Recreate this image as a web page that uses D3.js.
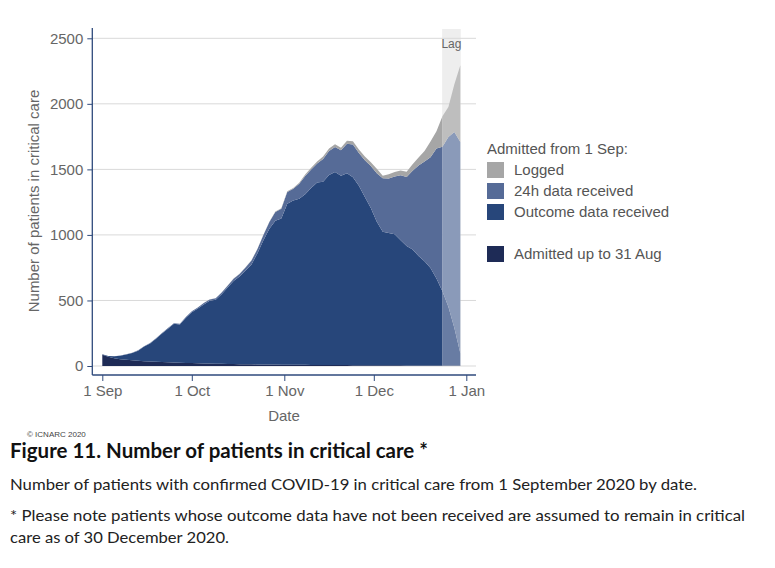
<!DOCTYPE html>
<html><head><meta charset="utf-8">
<script src="https://cdn.jsdelivr.net/npm/d3@7/dist/d3.min.js"></script>
<style>
body{margin:0;background:#fff;}
svg{display:block;}
</style></head>
<body><svg id="c" width="775" height="568"></svg>
<script>
// ---- data ----
const dates = [
 "2020-09-01","2020-09-03","2020-09-05","2020-09-07","2020-09-09","2020-09-11","2020-09-13","2020-09-15","2020-09-17","2020-09-19","2020-09-21","2020-09-23","2020-09-25","2020-09-27","2020-09-29",
 "2020-10-01","2020-10-03","2020-10-05","2020-10-07","2020-10-09","2020-10-11","2020-10-13","2020-10-15","2020-10-17","2020-10-19","2020-10-21","2020-10-23","2020-10-25","2020-10-27","2020-10-29","2020-10-31",
 "2020-11-02","2020-11-04","2020-11-06","2020-11-08","2020-11-10","2020-11-12","2020-11-14","2020-11-16","2020-11-18","2020-11-20","2020-11-22","2020-11-24","2020-11-26","2020-11-28","2020-11-30",
 "2020-12-02","2020-12-04","2020-12-06","2020-12-08","2020-12-10","2020-12-12","2020-12-14","2020-12-16","2020-12-18","2020-12-20","2020-12-22","2020-12-24","2020-12-26","2020-12-28","2020-12-30"
];
const admittedTo31Aug = [86,70,60,52,47,43,40,37,34,32,30,28,26,25,23,22,21,20,19,18,17,16,15,14,13,13,12,12,11,11,10,10,9,9,9,8,8,8,7,7,7,7,6,6,6,6,5,5,5,5,5,4,4,4,4,4,3,3,3,3,3];
const outcomeReceived = [3,6,14,27,40,56,77,111,138,176,218,257,296,291,345,388,417,450,479,487,531,582,633,669,715,762,848,948,1037,1097,1115,1228,1253,1266,1301,1350,1392,1397,1451,1473,1445,1463,1434,1369,1284,1199,1095,1020,1010,1000,955,911,884,836,796,744,665,567,449,287,94];
const h24Received = [0,1,1,1,2,2,3,3,3,4,4,5,5,6,6,8,8,10,10,11,12,15,17,19,24,30,32,40,50,67,75,90,90,115,140,142,145,175,182,190,193,225,250,250,280,320,370,407,415,440,495,527,602,690,760,844,991,1102,1295,1495,1612];
const logged = [0,0,0,0,0,0,0,0,0,0,0,0,0,0,0,0,0,0,1,1,1,2,2,2,2,2,2,2,3,3,4,5,6,8,10,12,15,18,20,22,20,23,25,27,28,30,35,20,33,35,37,39,50,60,80,120,131,233,229,365,585];

const seriesKeys = ["pre","outcome","h24","logged"];
const seriesLabels = {logged:"Logged", h24:"24h data received", outcome:"Outcome data received", pre:"Admitted up to 31 Aug"};
const colors = {pre:"#1e2b56", outcome:"#27467a", h24:"#566b97", logged:"#a6a6a6"};
const lagColors = {pre:"#616b88", outcome:"#687ca3", h24:"#8a9ab9", logged:"#bebebe"};
const yTicks = [0,500,1000,1500,2000,2500];
const xTickDates = ["2020-09-01","2020-10-01","2020-11-01","2020-12-01","2021-01-01"];
const xTickLabels = ["1 Sep","1 Oct","1 Nov","1 Dec","1 Jan"];
const lagRange = ["2020-12-24","2020-12-30"];

// ---- drawing ----
const parse = d3.timeParse("%Y-%m-%d");
const rows = dates.map((d,i)=>({date:parse(d), pre:admittedTo31Aug[i], outcome:outcomeReceived[i], h24:h24Received[i], logged:logged[i]}));

const svg = d3.select("#c");
svg.append("rect").attr("width",775).attr("height",568).attr("fill","#fff");

const x = d3.scaleTime().domain([parse("2020-09-01"), parse("2021-01-01")]).range([102.3, 466.3]);
const y = d3.scaleLinear().domain([0,2500]).range([366, 38.3]);
const axisX0 = 92.3, axisX1 = 476, axisYTop = 28, axisYBottom = 375;
const axisColor = "#2f4a7c";
const font = "'Liberation Sans', Arial, sans-serif";

const lagX0 = x(parse(lagRange[0])) - 0.3, lagX1 = x(parse(lagRange[1])) + 0.4;

// lag band
svg.append("rect").attr("x",lagX0).attr("y",axisYTop+1).attr("width",lagX1-lagX0).attr("height",y(0)-axisYTop-1).attr("fill","#eeeeee");

// gridlines
svg.append("g").selectAll("line").data(yTicks).join("line")
  .attr("x1",axisX0).attr("x2",axisX1).attr("y1",d=>y(d)).attr("y2",d=>y(d))
  .attr("stroke","#d9d9d9").attr("stroke-width",1);

// clip paths
const defs = svg.append("defs");
defs.append("clipPath").attr("id","clipMain").append("rect").attr("x",0).attr("y",0).attr("width",lagX0).attr("height",568);
defs.append("clipPath").attr("id","clipLag").append("rect").attr("x",lagX0).attr("y",0).attr("width",300).attr("height",568);

const stack = d3.stack().keys(seriesKeys);
const layers = stack(rows);
const area = d3.area().x(d=>x(d.data.date)).y0(d=>y(d[0])).y1(d=>y(d[1])).curve(d3.curveLinear);

svg.append("g").attr("clip-path","url(#clipMain)").selectAll("path").data(layers).join("path")
  .attr("d",area).attr("fill",d=>colors[d.key]);
svg.append("g").attr("clip-path","url(#clipLag)").selectAll("path").data(layers).join("path")
  .attr("d",area).attr("fill",d=>lagColors[d.key]);

// Lag label
svg.append("text").attr("x",(lagX0+lagX1)/2).attr("y",48).attr("text-anchor","middle")
  .attr("font-family",font).attr("font-size",12).attr("fill","#666").text("Lag");

// Y axis
const yAxis = d3.axisLeft(y).tickValues(yTicks).tickFormat(d3.format("d")).tickSize(5).tickPadding(4);
const gy = svg.append("g").attr("transform",`translate(${axisX0},0)`).call(yAxis);
gy.select(".domain").remove();
gy.selectAll(".tick line").attr("stroke",axisColor);
gy.selectAll(".tick text").attr("font-family",font).attr("font-size",15).attr("fill","#666");
svg.append("line").attr("x1",axisX0).attr("x2",axisX0).attr("y1",axisYTop).attr("y2",axisYBottom).attr("stroke",axisColor).attr("stroke-width",1.3);

// X axis
const xAxis = d3.axisBottom(x).tickValues(xTickDates.map(parse)).tickFormat((d,i)=>xTickLabels[i]).tickSize(6).tickPadding(4);
const gx = svg.append("g").attr("transform",`translate(0,${axisYBottom})`).call(xAxis);
gx.select(".domain").remove();
gx.selectAll(".tick line").attr("stroke",axisColor);
gx.selectAll(".tick text").attr("font-family",font).attr("font-size",15).attr("fill","#666");
svg.append("line").attr("x1",axisX0).attr("x2",axisX1).attr("y1",axisYBottom).attr("y2",axisYBottom).attr("stroke",axisColor).attr("stroke-width",1.3);

// axis titles
svg.append("text").attr("x",284).attr("y",421).attr("text-anchor","middle")
  .attr("font-family",font).attr("font-size",15).attr("fill","#666").text("Date");
svg.append("text").attr("transform","translate(39,201) rotate(-90)").attr("text-anchor","middle")
  .attr("font-family",font).attr("font-size",15).attr("fill","#666").text("Number of patients in critical care");

// legend
const lg = svg.append("g");
lg.append("text").attr("x",487).attr("y",154).attr("font-family",font).attr("font-size",15).attr("fill","#555").text("Admitted from 1 Sep:");
const legendItems = [{k:"logged",cy:170},{k:"h24",cy:191},{k:"outcome",cy:212},{k:"pre",cy:254}];
legendItems.forEach(it=>{
  lg.append("rect").attr("x",487).attr("y",it.cy-8).attr("width",17).attr("height",16).attr("fill",colors[it.k]);
  lg.append("text").attr("x",514).attr("y",it.cy+5).attr("font-family",font).attr("font-size",15).attr("fill","#555").text(seriesLabels[it.k]);
});

// footer
svg.append("text").attr("x",27).attr("y",437).attr("font-family",font).attr("font-size",8).attr("fill","#444").text("© ICNARC 2020");
const cf = "Lato, 'Open Sans', sans-serif";
svg.append("text").attr("x",10).attr("y",458).attr("font-family",cf).attr("font-weight","bold").attr("font-size",20).attr("fill","#111")
  .attr("textLength",418).attr("lengthAdjust","spacingAndGlyphs").text("Figure 11. Number of patients in critical care *");
svg.append("text").attr("x",10).attr("y",490).attr("font-family",cf).attr("font-size",16).attr("fill","#222")
  .attr("textLength",687).attr("lengthAdjust","spacingAndGlyphs").text("Number of patients with confirmed COVID-19 in critical care from 1 September 2020 by date.");
svg.append("text").attr("x",10).attr("y",521).attr("font-family",cf).attr("font-size",16).attr("fill","#222")
  .attr("textLength",735).attr("lengthAdjust","spacingAndGlyphs").text("* Please note patients whose outcome data have not been received are assumed to remain in critical");
svg.append("text").attr("x",10).attr("y",543).attr("font-family",cf).attr("font-size",16).attr("fill","#222")
  .attr("textLength",219).attr("lengthAdjust","spacingAndGlyphs").text("care as of 30 December 2020.");
</script></body></html>
